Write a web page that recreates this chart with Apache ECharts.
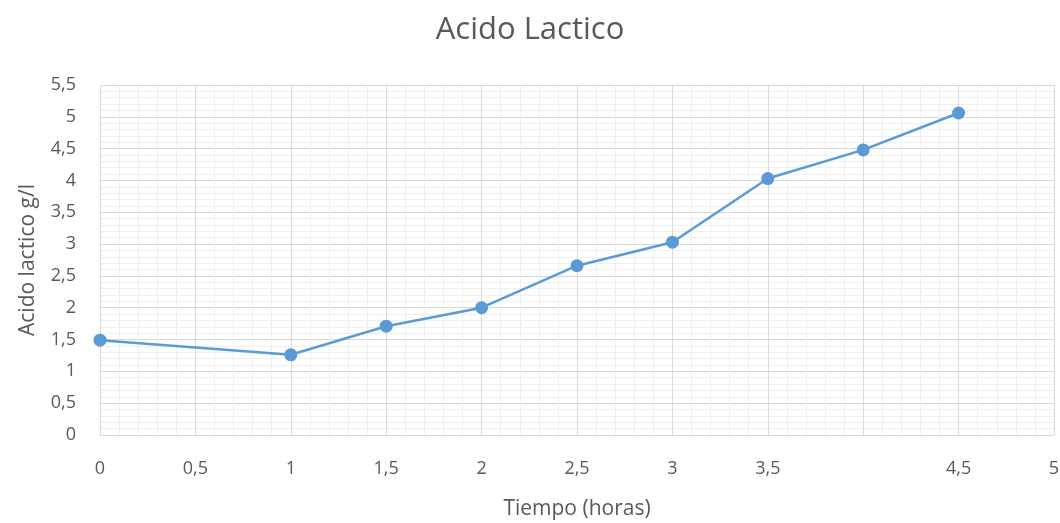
<!DOCTYPE html>
<html>
<head>
<meta charset="utf-8">
<script src="https://cdn.jsdelivr.net/npm/echarts@6/dist/echarts.min.js"></script>
<style>
  html, body { margin: 0; padding: 0; background: #ffffff; }
  #chart { width: 1060px; height: 523px; }
</style>
</head>
<body>
<div id="chart"></div>
<script>
// Lactic acid concentration over time
const hours = [0, 1, 1.5, 2, 2.5, 3, 3.5, 4, 4.5];
const lacticAcid = [1.49, 1.26, 1.71, 2.0, 2.66, 3.03, 4.03, 4.48, 5.06];
const xTickLabels = ['0', '0,5', '1', '1,5', '2', '2,5', '3', '3,5', '', '4,5', '5'];
const yTickLabels = ['0', '0,5', '1', '1,5', '2', '2,5', '3', '3,5', '4', '4,5', '5', '5,5'];

const fontFamily = '"Open Sans", "Liberation Sans", sans-serif';
const textColor = '#595959';

const chart = echarts.init(document.getElementById('chart'));
chart.setOption({
  animation: false,
  title: {
    text: 'Acido Lactico',
    left: 'center',
    top: 10,
    textStyle: { fontFamily, fontSize: 31, fontWeight: 'normal', color: textColor }
  },
  grid: { left: 100, right: 6, top: 85, bottom: 88, containLabel: false, outerBoundsMode: 'none' },
  xAxis: {
    type: 'value',
    min: 0,
    max: 5,
    interval: 0.5,
    name: 'Tiempo (horas)',
    nameLocation: 'middle',
    nameGap: 64,
    nameTextStyle: { fontFamily, fontSize: 21, color: textColor },
    axisLine: { show: false },
    axisTick: { show: false },
    axisLabel: {
      margin: 25,
      fontFamily, fontSize: 18, color: textColor,
      formatter: v => xTickLabels[Math.round(v / 0.5)]
    },
    splitLine: { show: true, lineStyle: { color: '#d9d9d9', width: 1 } },
    minorTick: { show: false, splitNumber: 5 },
    minorSplitLine: { show: true, lineStyle: { color: '#efefef', width: 1 } }
  },
  yAxis: {
    type: 'value',
    min: 0,
    max: 5.5,
    interval: 0.5,
    name: 'Acido lactico g/l',
    nameLocation: 'middle',
    nameGap: 61,
    nameTextStyle: { fontFamily, fontSize: 21, color: textColor },
    axisLine: { show: false },
    axisTick: { show: false },
    axisLabel: {
      margin: 24,
      fontFamily, fontSize: 18, color: textColor,
      formatter: v => yTickLabels[Math.round(v / 0.5)]
    },
    splitLine: { show: true, lineStyle: { color: '#d9d9d9', width: 1 } },
    minorTick: { show: false, splitNumber: 5 },
    minorSplitLine: { show: true, lineStyle: { color: '#efefef', width: 1 } }
  },
  series: [{
    type: 'line',
    data: hours.map((h, i) => [h, lacticAcid[i]]),
    symbol: 'circle',
    symbolSize: 13,
    lineStyle: { color: '#5b9bd5', width: 2.5 },
    itemStyle: { color: '#5b9bd5' }
  }]
});
</script>
</body>
</html>
